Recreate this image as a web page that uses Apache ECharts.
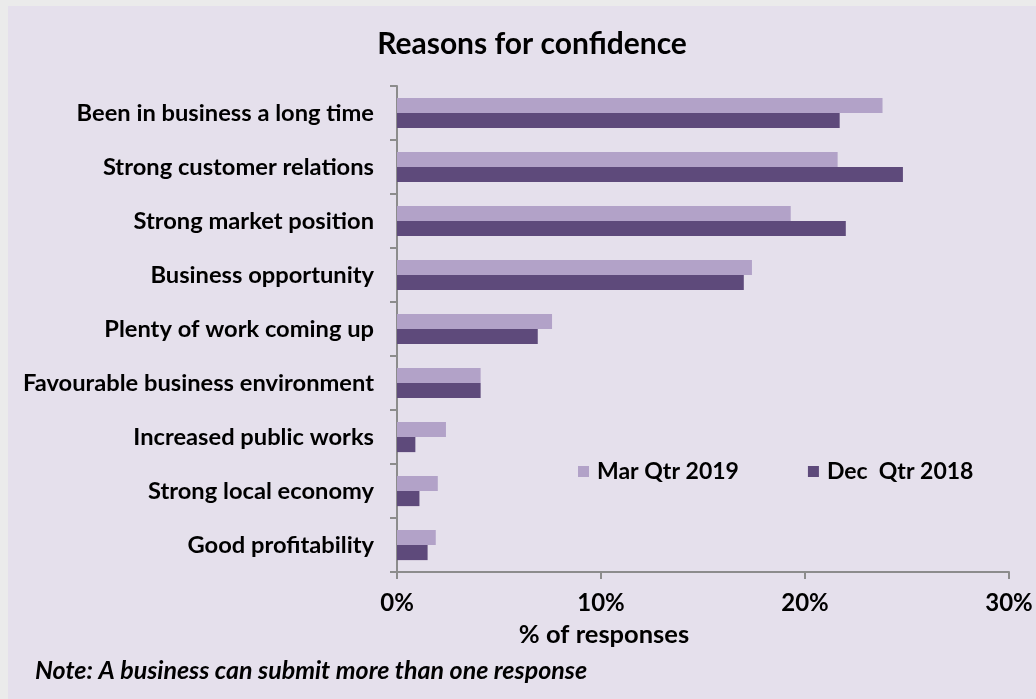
<!DOCTYPE html>
<html>
<head>
<meta charset="utf-8">
<script src="https://cdn.jsdelivr.net/npm/echarts@6/dist/echarts.min.js"></script>
<style>
html,body{margin:0;padding:0;background:#ebebeb;}
#c{width:1036px;height:699px;}
</style>
</head>
<body>
<div id="c"></div>
<script>
const categories = [
  "Been in business a long time",
  "Strong customer relations",
  "Strong market position",
  "Business opportunity",
  "Plenty of work coming up",
  "Favourable business environment",
  "Increased public works",
  "Strong local economy",
  "Good profitability"
];
const seriesNames = ["Mar Qtr 2019", "Dec  Qtr 2018"];
const marQtr2019 = [23.8, 21.6, 19.3, 17.4, 7.6, 4.1, 2.4, 2.0, 1.9];
const decQtr2018 = [21.7, 24.8, 22.0, 17.0, 6.9, 4.1, 0.9, 1.1, 1.5];
const xTicks = [0, 10, 20, 30];

const FONT = "Lato";
const chart = echarts.init(document.getElementById('c'), null, {renderer: 'canvas'});
chart.setOption({
  backgroundColor: '#ebebeb',
  animation: false,
  graphic: [
    {type: 'rect', left: 8, top: 6, shape: {width: 1028, height: 693}, style: {fill: '#e5e0ec'}, z: -10},
    {type: 'text', style: {text: '% of responses', x: 604, y: 635, textAlign: 'center', textVerticalAlign: 'middle', font: 'bold 25.5px Lato', fill: '#000'}},
    {type: 'text', style: {text: 'Note: A business can submit more than one response', x: 35, y: 671, textVerticalAlign: 'middle', font: 'italic bold 25px Lato', fill: '#000'}}
  ],
  title: {
    text: 'Reasons for confidence',
    left: 527, top: 24, textAlign: 'center',
    textStyle: {fontFamily: FONT, fontWeight: 'bold', fontSize: 30, color: '#000'}
  },
  legend: {
    data: seriesNames,
    left: 573, top: 455,
    itemWidth: 11, itemHeight: 11, itemGap: 69,
    icon: 'rect',
    textStyle: {fontFamily: FONT, fontWeight: 'bold', fontSize: 23, color: '#000', padding: [0,0,0,3]}
  },
  grid: {left: 397, right: 27, top: 86, bottom: 127, containLabel: false},
  xAxis: {
    type: 'value', min: 0, max: 30, interval: 10,
    axisLine: {show: true, lineStyle: {color: '#8c8c8c', width: 2}},
    axisTick: {show: true, length: 7, lineStyle: {color: '#8c8c8c', width: 2}},
    splitLine: {show: false},
    axisLabel: {formatter: v => xTicks.includes(v) ? v + '%' : '', margin: 19, fontFamily: FONT, fontWeight: 'bold', fontSize: 24, color: '#000'}
  },
  yAxis: {
    type: 'category', data: categories, inverse: true,
    axisLine: {show: true, lineStyle: {color: '#8c8c8c', width: 2}},
    axisTick: {show: true, length: 7, lineStyle: {color: '#8c8c8c', width: 2}},
    axisLabel: {margin: 23, fontFamily: FONT, fontWeight: 'bold', fontSize: 23.7, color: '#000'}
  },
  series: [
    {name: seriesNames[0], type: 'bar', data: marQtr2019, barGap: '0%', barCategoryGap: '44%', itemStyle: {color: '#b2a2c8'}},
    {name: seriesNames[1], type: 'bar', data: decQtr2018, barGap: '0%', barCategoryGap: '44%', itemStyle: {color: '#5e4a7b'}}
  ]
});
</script>
</body>
</html>
